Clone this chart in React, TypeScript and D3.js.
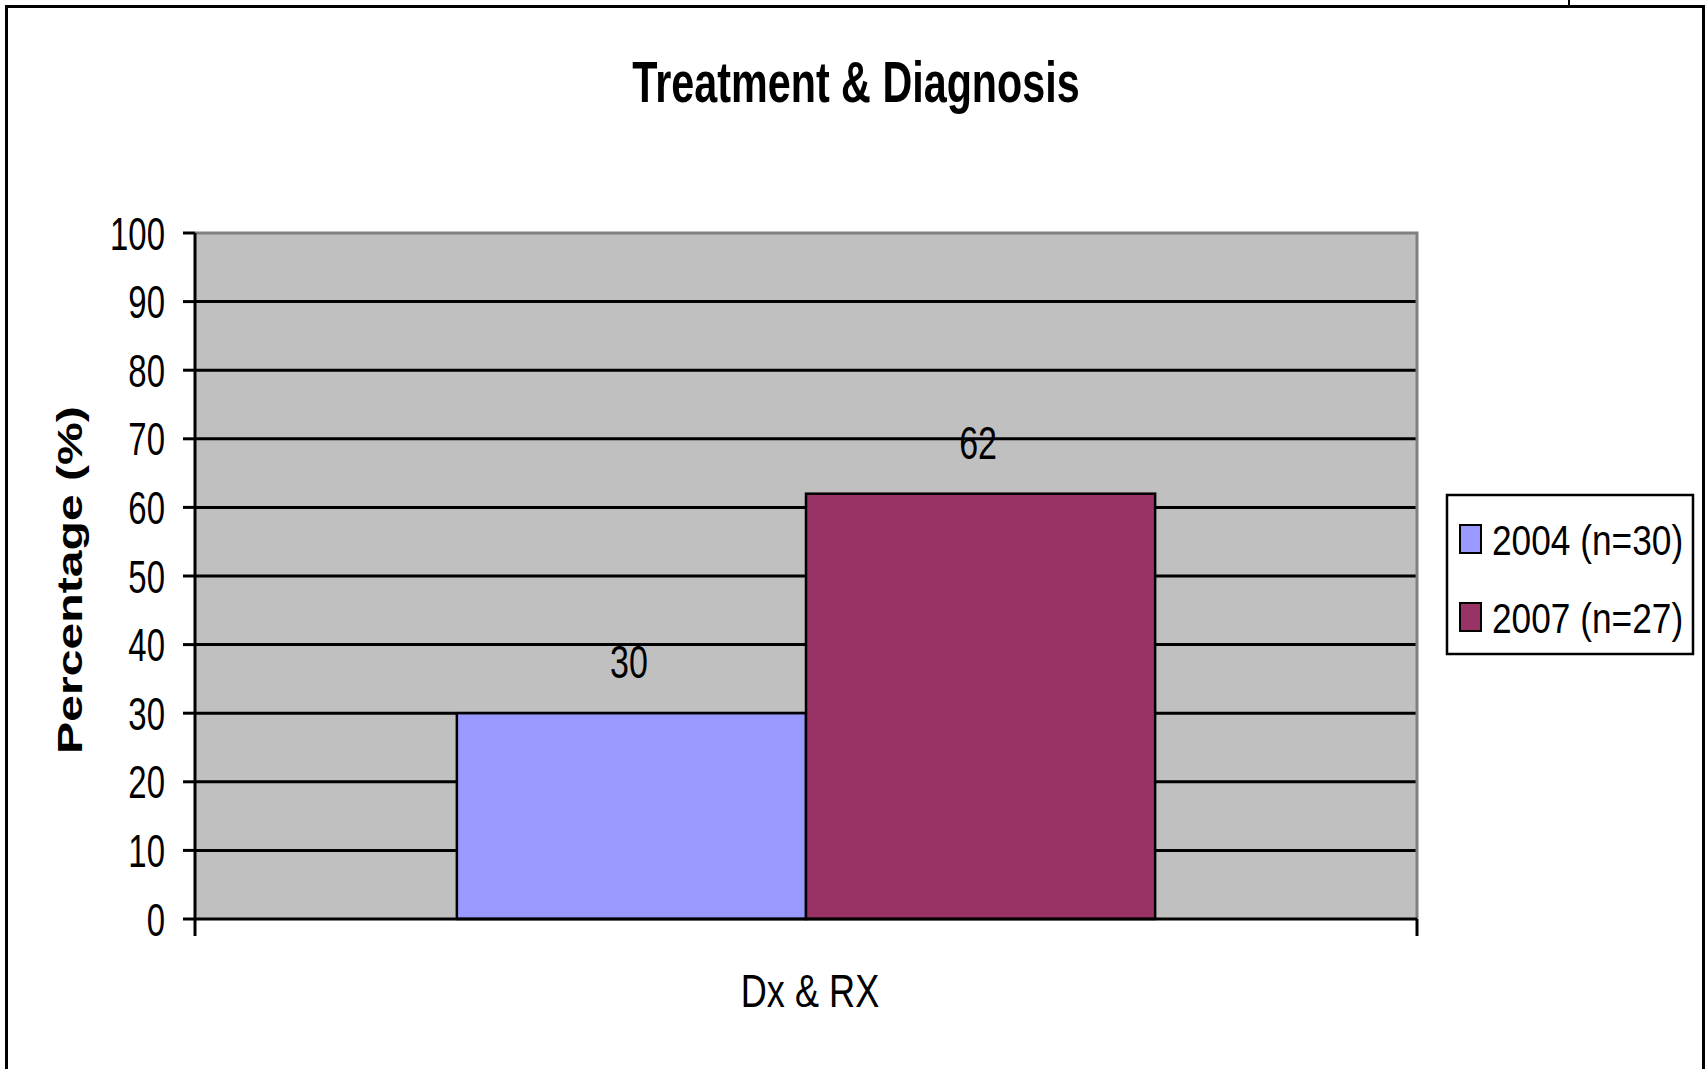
import React, { useEffect } from "react";
import * as d3 from "d3";

// Chart data
const categories = ["Dx & RX"];
const seriesNames = ["2004 (n=30)", "2007 (n=27)"];
const values2004 = [30];
const values2007 = [62];
const seriesColors = ["#9999FF", "#993366"];
const yTicks = [0, 10, 20, 30, 40, 50, 60, 70, 80, 90, 100];
const titleText = "Treatment & Diagnosis";
const yLabelText = "Percentage (%)";

const W = 1707;
const H = 1069;
const FONT = "'Liberation Sans', Arial, sans-serif";

export default function App() {
  useEffect(() => {
    document.body.style.margin = "0";
  }, []);

  const plot = { left: 195, right: 1417, top: 233, bottom: 919 };
  const y = d3.scaleLinear().domain([0, 100]).range([plot.bottom, plot.top]);
  const x0 = d3.scaleBand<string>().domain(categories).range([plot.left, plot.right]).padding(0);
  const x1 = d3
    .scaleBand<string>()
    .domain(seriesNames)
    .range([0, x0.bandwidth()])
    .paddingInner(0)
    .paddingOuter(0.75);

  const seriesValues = [values2004, values2007];
  const bars = categories.flatMap((cat, ci) =>
    seriesNames.map((s, si) => ({
      cat,
      series: s,
      value: seriesValues[si][ci],
      color: seriesColors[si],
      x: (x0(cat) ?? 0) + (x1(s) ?? 0),
      w: x1.bandwidth(),
    }))
  );

  return (
    <svg
      width={W}
      height={H}
      viewBox={`0 0 ${W} ${H}`}
      style={{ display: "block", position: "absolute", left: 0, top: 0, background: "#fff" }}
      fontFamily={FONT}
    >
      {/* outer frame */}
      <rect x={6.5} y={6.5} width={1697} height={1100} fill="#fff" stroke="#000" strokeWidth={3} />
      <line x1={1569} y1={0} x2={1569} y2={6} stroke="#000" strokeWidth={2} />

      {/* title */}
      <text
        transform={`translate(856,102) scale(0.712,1)`}
        textAnchor="middle"
        fontSize={58}
        fontWeight="bold"
      >
        {titleText}
      </text>

      {/* plot area */}
      <rect
        x={plot.left}
        y={plot.top}
        width={plot.right - plot.left}
        height={plot.bottom - plot.top}
        fill="#C0C0C0"
      />
      {/* grid lines */}
      {yTicks
        .filter((t) => t > 0 && t < 100)
        .map((t) => (
          <line key={t} x1={plot.left} x2={plot.right} y1={y(t)} y2={y(t)} stroke="#000" strokeWidth={3} />
        ))}
      {/* plot border (top/right) */}
      <path
        d={`M${plot.left},${plot.top} H${plot.right} V${plot.bottom}`}
        fill="none"
        stroke="#808080"
        strokeWidth={3}
      />

      {/* bars */}
      {bars.map((b) => (
        <rect
          key={b.series}
          x={b.x}
          y={y(b.value)}
          width={b.w}
          height={y(0) - y(b.value)}
          fill={b.color}
          stroke="#000"
          strokeWidth={2.5}
        />
      ))}

      {/* value labels */}
      {bars.map((b) => (
        <text
          key={b.series + "-lbl"}
          transform={`translate(${b.x + b.w / 2 - 2.5},${y(b.value) - 35}) scale(0.74,1)`}
          textAnchor="middle"
          fontSize={46}
        >
          {b.value}
        </text>
      ))}

      {/* y axis */}
      <line x1={plot.left} x2={plot.left} y1={plot.top} y2={plot.bottom + 17} stroke="#000" strokeWidth={3} />
      {yTicks.map((t) => (
        <g key={t}>
          <line x1={plot.left - 12} x2={plot.left} y1={y(t)} y2={y(t)} stroke="#000" strokeWidth={3} />
          <text
            transform={`translate(165,${y(t) + 16.5}) scale(0.716,1)`}
            textAnchor="end"
            fontSize={46}
          >
            {t}
          </text>
        </g>
      ))}

      {/* x axis */}
      <line x1={plot.left} x2={plot.right} y1={plot.bottom} y2={plot.bottom} stroke="#000" strokeWidth={3} />
      <line x1={plot.right} x2={plot.right} y1={plot.bottom} y2={plot.bottom + 17} stroke="#000" strokeWidth={3} />
      {categories.map((c) => (
        <text
          key={c}
          transform={`translate(${(x0(c) ?? 0) + x0.bandwidth() / 2 + 4},1007) scale(0.785,1)`}
          textAnchor="middle"
          fontSize={46}
        >
          {c}
        </text>
      ))}

      {/* y axis title */}
      <text
        transform={`translate(82,580) rotate(-90) scale(1.376,1)`}
        textAnchor="middle"
        fontSize={35}
        fontWeight="bold"
      >
        {yLabelText}
      </text>

      {/* legend */}
      <rect x={1447} y={495} width={246} height={159} fill="#fff" stroke="#000" strokeWidth={2.5} />
      {seriesNames.map((s, i) => {
        const baseY = [555, 633][i];
        return (
          <g key={s}>
            <rect
              x={1460}
              y={baseY - 30}
              width={21}
              height={28}
              fill={seriesColors[i]}
              stroke="#000"
              strokeWidth={2}
            />
            <text transform={`translate(1492,${baseY}) scale(0.84,1)`} fontSize={42}>
              {s}
            </text>
          </g>
        );
      })}
    </svg>
  );
}
